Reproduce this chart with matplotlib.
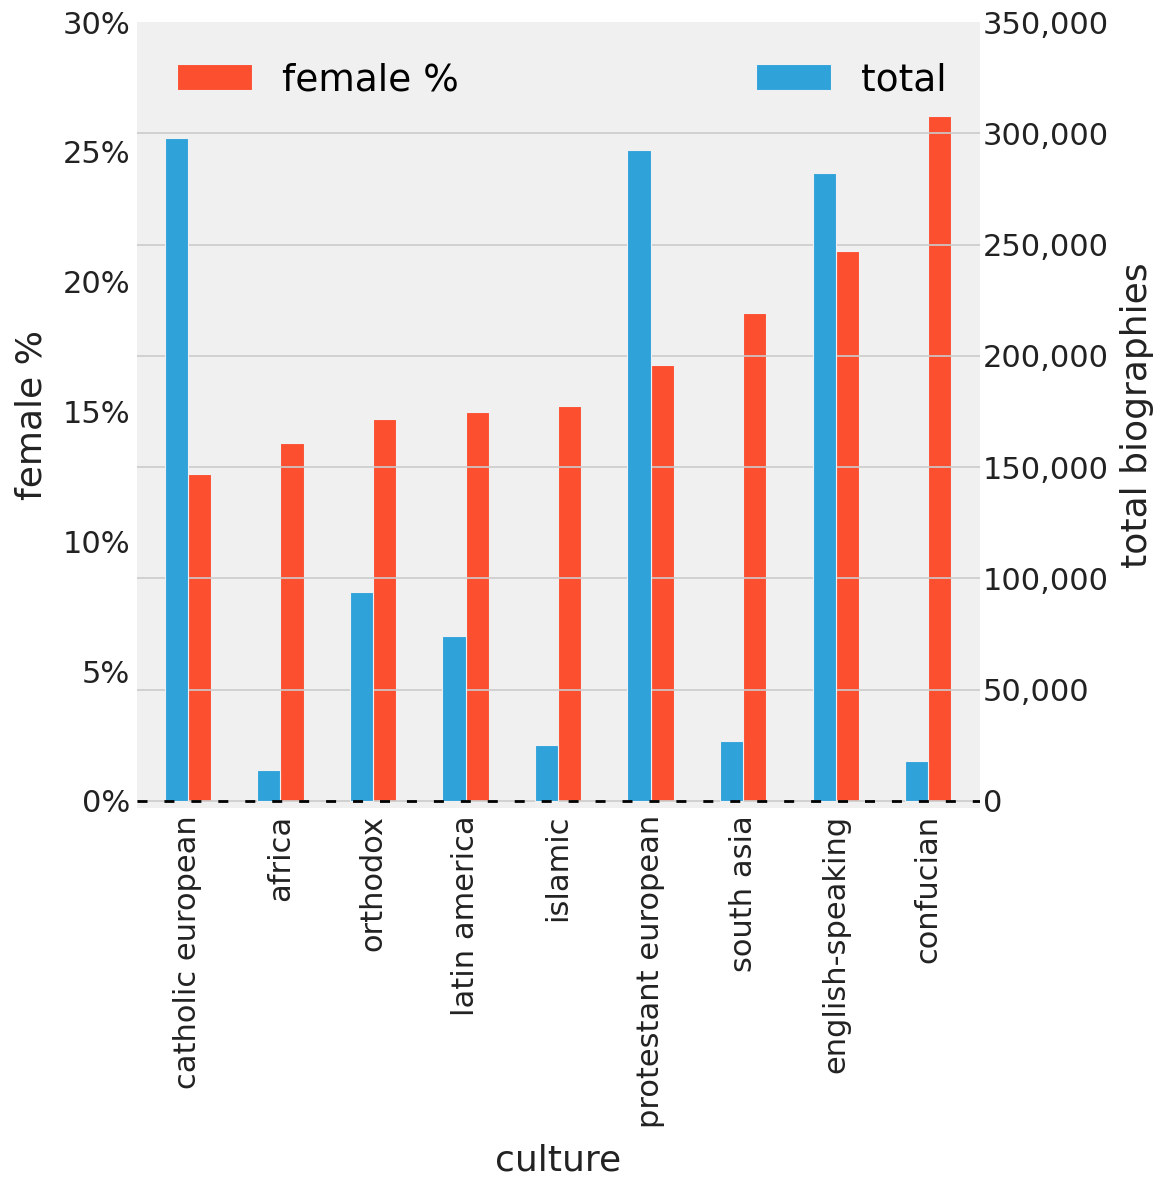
import matplotlib
matplotlib.use("Agg")
import matplotlib.pyplot as plt
from matplotlib.ticker import FuncFormatter

cultures = ["catholic european", "africa", "orthodox", "latin america", "islamic",
            "protestant european", "south asia", "english-speaking", "confucian"]
female_pct = [12.6, 13.8, 14.7, 15.0, 15.2, 16.8, 18.8, 21.2, 26.4]
total = [298000, 14000, 94000, 74000, 25000, 292500, 27000, 282000, 18000]

blue = "#30a2da"
red = "#fc4f30"
bg = "#f0f0f0"
txt = "#222222"

fig = plt.figure(figsize=(11.66, 11.78), dpi=100)
ax = fig.add_axes([0.1175, 0.3141, 0.723, 0.6672])
ax2 = ax.twinx()

x = list(range(len(cultures)))
w = 0.25

ax.set_facecolor(bg)
ax2.patch.set_visible(False)

ax.bar([i + w / 2 for i in x], female_pct, width=w, color=red,
       edgecolor=bg, linewidth=0.8, label="female %")
ax2.bar([i - w / 2 for i in x], total, width=w, color=blue,
        edgecolor=bg, linewidth=0.8, label="total")
ax2.axhline(0, color="black", lw=2, linestyle=(0, (3.6, 6.1)), zorder=5)

ax.set_xlim(-0.55, 8.56)
ax.set_ylim(-0.27, 30)
ax2.set_ylim(-3150, 350000)

ax.set_xticks(x)
ax.set_xticklabels(cultures, rotation=90)
ax.set_yticks(range(0, 31, 5))
ax.yaxis.set_major_formatter(FuncFormatter(lambda v, p: f"{v:.0f}%"))
ax2.set_yticks(range(0, 350001, 50000))
ax2.yaxis.set_major_formatter(FuncFormatter(lambda v, p: f"{v:,.0f}"))

ax.grid(False)
ax2.set_axisbelow(True)
ax2.yaxis.grid(True, color="#cbcbcb", lw=1.2)
ax2.xaxis.grid(False)
# no grid line on the top edge
ax2.yaxis.get_major_ticks()[-1].gridline.set_visible(False)

for a in (ax, ax2):
    for s in a.spines.values():
        s.set_visible(False)
    a.tick_params(length=0, labelsize=22, colors=txt, pad=5)
ax2.tick_params(axis="y", pad=2)

ax.set_xlabel("culture", fontsize=26, color=txt, labelpad=11)
ax.set_ylabel("female %", fontsize=26, color=txt, labelpad=10)
ax2.set_ylabel("total biographies", fontsize=26, color=txt, labelpad=8)

ax.legend(loc="upper left", frameon=False, fontsize=27,
          bbox_to_anchor=(0.008, 0.992))
ax2.legend(loc="upper right", frameon=False, fontsize=27,
           bbox_to_anchor=(1.0, 0.992))

fig.savefig("out.png", dpi=100, facecolor="white")
